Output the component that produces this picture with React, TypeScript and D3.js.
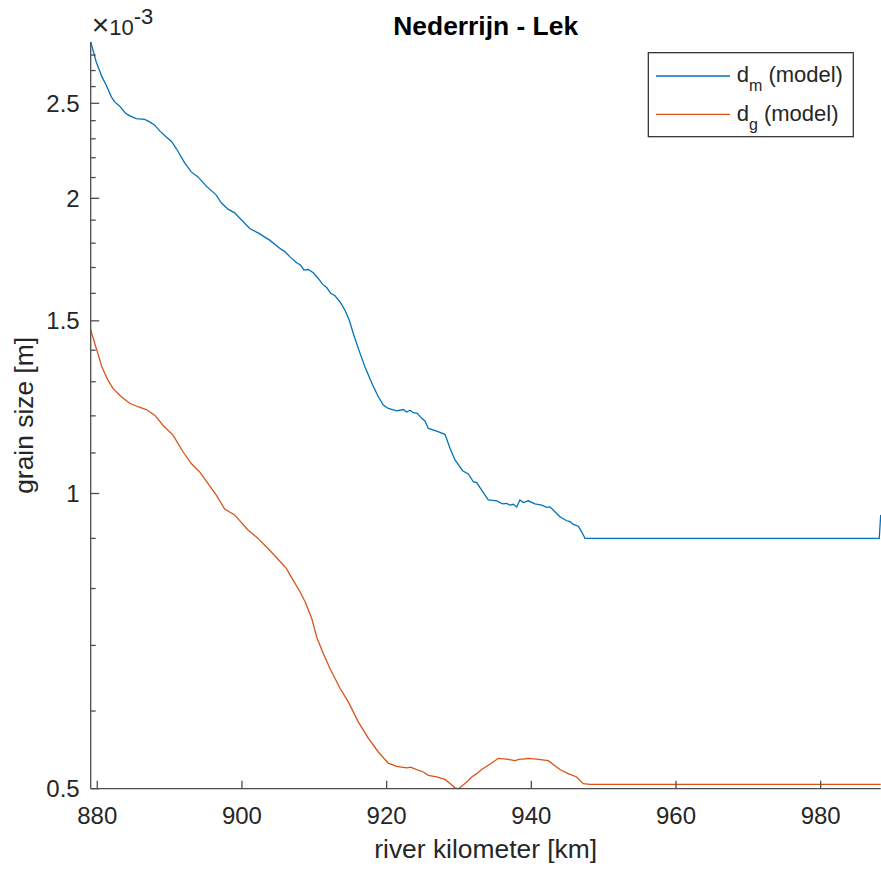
import React from 'react';
import * as d3 from 'd3';

// river kilometer [km] and grain size [x 1e-3 m]
const kmDm = [879.09, 879.86, 880.65, 881.24, 881.94, 882.41, 883.10, 883.87, 884.48, 885.39,
  886.55, 887.24, 887.94, 888.63, 889.54, 890.23, 890.92, 892.08, 892.99, 893.92,
  895.07, 896.45, 897.14, 898.07, 898.99, 901.07, 902.22, 903.83, 905.44, 905.95,
  906.64, 907.57, 908.12, 908.57, 909.17, 909.86, 910.55, 911.16, 911.71, 912.27,
  912.86, 913.56, 914.24, 914.84, 915.39, 916.08, 917.01, 917.93, 918.85, 919.54,
  920.23, 921.39, 922.30, 922.77, 923.23, 923.68, 924.24, 924.84, 925.30, 925.76,
  926.92, 928.07, 928.76, 929.45, 930.51, 931.29, 931.98, 932.45, 933.14, 934.05,
  935.21, 936.04, 936.60, 937.05, 937.51, 937.98, 938.43, 938.89, 939.58, 940.51,
  941.43, 942.13, 942.58, 943.96, 944.89, 945.35, 945.80, 946.49, 946.96, 947.42,
  988.10, 988.30];
const dmModel = [2.887, 2.755, 2.660, 2.608, 2.538, 2.508, 2.483, 2.444, 2.427, 2.412,
  2.407, 2.393, 2.375, 2.343, 2.310, 2.287, 2.248, 2.174, 2.128, 2.103,
  2.058, 2.015, 1.979, 1.950, 1.933, 1.863, 1.844, 1.813, 1.774, 1.764,
  1.743, 1.719, 1.709, 1.690, 1.692, 1.679, 1.657, 1.634, 1.622, 1.600,
  1.591, 1.568, 1.538, 1.502, 1.456, 1.406, 1.346, 1.297, 1.255, 1.231,
  1.221, 1.214, 1.218, 1.211, 1.216, 1.209, 1.207, 1.193, 1.186, 1.165,
  1.158, 1.149, 1.112, 1.082, 1.055, 1.047, 1.028, 1.026, 1.008, 0.985,
  0.983, 0.976, 0.977, 0.973, 0.975, 0.969, 0.985, 0.979, 0.983, 0.976,
  0.973, 0.968, 0.969, 0.947, 0.938, 0.936, 0.930, 0.926, 0.914, 0.900,
  0.900, 0.951];

const kmDg = [879.09, 879.86, 880.65, 881.48, 882.17, 883.32, 884.48, 885.63, 886.77, 887.94,
  889.08, 890.47, 891.85, 893.00, 894.16, 896.45, 897.61, 898.99, 900.83, 902.22,
  903.60, 904.99, 906.13, 906.64, 908.02, 908.71, 909.64, 910.33, 911.24, 912.17,
  913.55, 914.70, 916.08, 917.46, 918.85, 920.23, 921.39, 922.77, 923.32, 924.15,
  925.07, 925.76, 926.92, 928.07, 928.76, 929.45, 929.91, 930.38, 931.07, 931.76,
  932.45, 933.14, 933.83, 934.52, 935.43, 936.60, 937.74, 938.43, 938.89, 939.58,
  940.74, 942.34, 943.96, 945.11, 946.27, 947.18, 948.11, 988.30];
const dgModel = [1.468, 1.406, 1.346, 1.305, 1.280, 1.255, 1.236, 1.226, 1.218, 1.202,
  1.174, 1.147, 1.103, 1.073, 1.052, 0.996, 0.964, 0.951, 0.918, 0.900,
  0.879, 0.857, 0.839, 0.826, 0.794, 0.776, 0.746, 0.714, 0.687, 0.663,
  0.633, 0.613, 0.585, 0.563, 0.545, 0.531, 0.527, 0.525, 0.526, 0.523,
  0.520, 0.516, 0.514, 0.511, 0.506, 0.501, 0.500, 0.503, 0.508, 0.514,
  0.518, 0.523, 0.527, 0.531, 0.537, 0.536, 0.534, 0.536, 0.536, 0.537,
  0.536, 0.534, 0.523, 0.518, 0.514, 0.506, 0.505, 0.505];

const xTicks = [880, 900, 920, 940, 960, 980];
const yMajorTicks = [0.5, 1, 1.5, 2, 2.5];
const yMinorTicks = [0.6, 0.7, 0.8, 0.9, 1.1, 1.2, 1.3, 1.4, 1.6, 1.7, 1.8, 1.9, 2.1, 2.2, 2.3, 2.4, 2.6, 2.7, 2.8];
const seriesNames = ['m', 'g'];
const seriesColors = ['#0072BD', '#D95319'];

const W = 881, H = 869;
const FONT = '"Liberation Sans", Arial, Helvetica, sans-serif';
const TXT = '#262626';
const AX = '#4d4d4d';

export default function App() {
  const allKm = [...kmDm, ...kmDg];
  const allV = [...dmModel, ...dgModel];
  const x = d3.scaleLinear().domain(d3.extent(allKm) as [number, number]).range([90.7, 880.7]);
  const y = d3.scaleLog().domain(d3.extent(allV) as [number, number]).range([788.7, 42.0]);
  const line = d3.line<[number, number]>().x(d => x(d[0])).y(d => y(d[1]));
  const s1 = kmDm.map((k, i) => [k, dmModel[i]] as [number, number]);
  const s2 = kmDg.map((k, i) => [k, dgModel[i]] as [number, number]);
  const [x0, x1] = x.range();
  const [y0, y1] = y.range();
  const cx = (x0 + x1) / 2;
  const cy = (y0 + y1) / 2;

  return (
    <svg width={W} height={H} style={{ position: 'absolute', left: 0, top: 0, background: '#fff' }} fontFamily={FONT}>
      <rect x={0} y={0} width={W} height={H} fill="#fff" />
      {/* lines */}
      <path d={line(s1) || ''} fill="none" stroke={seriesColors[0]} strokeWidth={1.3} />
      <path d={line(s2) || ''} fill="none" stroke={seriesColors[1]} strokeWidth={1.3} />
      {/* axes */}
      <line x1={x0} y1={y0} x2={x1} y2={y0} stroke={AX} strokeWidth={1.3} />
      <line x1={x0} y1={y0} x2={x0} y2={y1} stroke={AX} strokeWidth={1.3} />
      {xTicks.map(t => (
        <g key={'x' + t}>
          <line x1={x(t)} x2={x(t)} y1={y0} y2={y0 - 8} stroke={AX} strokeWidth={1.3} />
          <text x={x(t)} y={y0 + 35} textAnchor="middle" fontSize={24} fill={TXT}>{t}</text>
        </g>
      ))}
      {yMajorTicks.map(t => (
        <g key={'y' + t}>
          <line x1={x0} x2={x0 + 8.5} y1={y(t)} y2={y(t)} stroke={AX} strokeWidth={1.3} />
          <text x={x0 - 11} y={y(t)} dy="0.35em" textAnchor="end" fontSize={24} fill={TXT}>{t}</text>
        </g>
      ))}
      {yMinorTicks.map(t => (
        <line key={'m' + t} x1={x0} x2={x0 + 5} y1={y(t)} y2={y(t)} stroke={AX} strokeWidth={1.3} />
      ))}
      {/* exponent */}
      <text x={x0 + 1} y={35} fontSize={22} fill={TXT}>
        <tspan fontSize={30} fontWeight={300}>×</tspan><tspan>10</tspan><tspan dy={-11} fontSize={22}>-3</tspan>
      </text>
      {/* labels */}
      <text x={cx} y={858} textAnchor="middle" fontSize={26.4} fill={TXT}>river kilometer [km]</text>
      <text transform={`translate(33,${cy}) rotate(-90)`} textAnchor="middle" fontSize={26.4} fill={TXT}>grain size [m]</text>
      <text x={cx} y={35} textAnchor="middle" fontSize={26.4} fontWeight="bold" fill="#000">Nederrijn - Lek</text>
      {/* legend */}
      <rect x={648.3} y={52.7} width={205} height={84} fill="#fff" stroke="#262626" strokeWidth={1.2} />
      {seriesNames.map((n, i) => (
        <g key={n}>
          <line x1={656} x2={730} y1={76 + i * 38.3} y2={76 + i * 38.3} stroke={seriesColors[i]} strokeWidth={1.3} />
          <text x={736.7} y={82 + i * 38.5} fontSize={22} fill={TXT}>
            d<tspan dy={9} fontSize={16}>{n}</tspan><tspan dy={-9}> (model)</tspan>
          </text>
        </g>
      ))}
    </svg>
  );
}
